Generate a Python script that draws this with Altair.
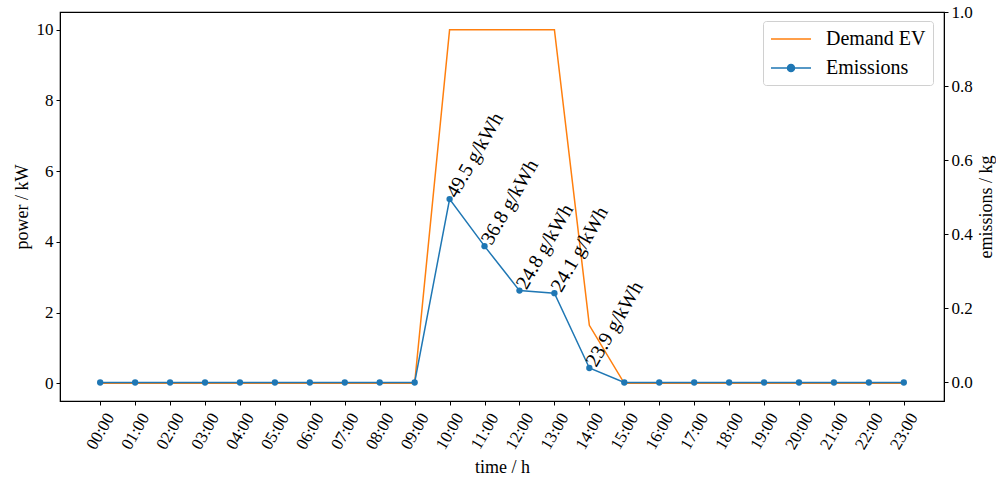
import altair as alt
import pandas as pd

hours = list(range(24))
demand_ev = [0, 0, 0, 0, 0, 0, 0, 0, 0, 0, 10, 10, 10, 10, 1.64, 0, 0, 0, 0, 0, 0, 0, 0, 0]
emissions = [0, 0, 0, 0, 0, 0, 0, 0, 0, 0, 0.495, 0.368, 0.248, 0.241, 0.039, 0, 0, 0, 0, 0, 0, 0, 0, 0]
ann_hours = [10, 11, 12, 13, 14]
ann_labels = ["49.5 g/kWh", "36.8 g/kWh", "24.8 g/kWh", "24.1 g/kWh", "23.9 g/kWh"]

df = pd.DataFrame({"hour": hours, "demand": demand_ev, "emissions": emissions})
ann = pd.DataFrame({"hour": ann_hours, "label": ann_labels,
                    "emissions": [emissions[h] for h in ann_hours]})

FONT = "Liberation Serif"
ORANGE = "#ff7f0e"
BLUE = "#1f77b4"

xscale = alt.Scale(domain=[-1.15, 24.15], nice=False, zero=False)
xaxis = alt.Axis(values=hours, title="time / h",
                 labelExpr="(datum.value < 10 ? '0' : '') + datum.value + ':00'",
                 labelAngle=-60, labelAlign="center", labelBaseline="middle",
                 labelOverlap=False, labelFlush=False,
                 labelFontSize=17, titleFontSize=18, labelPadding=26,
                 titlePadding=7, grid=False, tickSize=4,
                 domainColor="black", tickColor="black", labelColor="black",
                 titleColor="black", titleFontWeight="normal",
                 labelFont=FONT, titleFont=FONT)
xenc = alt.X("hour:Q", scale=xscale, axis=xaxis)

cscale = alt.Scale(domain=["Demand EV", "Emissions"], range=[ORANGE, BLUE])
legend = alt.Legend(
    title=None, orient="none", legendX=703, legendY=9,
    labelFont=FONT, labelFontSize=20, labelColor="black",
    symbolSize=400, symbolStrokeWidth=1.5,
    padding=7, rowPadding=8, labelOffset=24, symbolOffset=10,
    strokeColor="#d0d0d0", fillColor="white", cornerRadius=3,
    symbolType={"expr": "datum.value == 'Emissions' ? 'M-2,0H2M0.35,0A0.35,0.35 0 1 1 -0.35,0A0.35,0.35 0 1 1 0.35,0' : 'M-2,0H2'"},
    symbolFillColor={"expr": "datum.value == 'Emissions' ? '#1f77b4' : 'transparent'"},
)

left = alt.Chart(df).transform_calculate(series="'Demand EV'").mark_line(strokeWidth=1.5).encode(
    x=xenc,
    y=alt.Y("demand:Q", scale=alt.Scale(domain=[-0.5, 10.5], nice=False, zero=False),
            axis=alt.Axis(title="power / kW", values=[0, 2, 4, 6, 8, 10], grid=False,
                          tickSize=4, labelFontSize=17, titleFontSize=18, labelPadding=3,
                          domainColor="black", tickColor="black", labelColor="black",
                          titleColor="black", titleFontWeight="normal",
                          labelFont=FONT, titleFont=FONT, titlePadding=5)),
    color=alt.Color("series:N", scale=cscale, legend=legend),
)

yr_scale = alt.Scale(domain=[-0.05, 1.0], nice=False, zero=False)
yr_axis = alt.Axis(title="emissions / kg", orient="right", values=[0, 0.2, 0.4, 0.6, 0.8, 1.0],
                   format=".1f", grid=False, tickSize=4, labelFontSize=17, titleFontSize=18,
                   labelPadding=3, titleAngle=270, titleBaseline="top",
                   domainColor="black", tickColor="black", labelColor="black",
                   titleColor="black", titleFontWeight="normal",
                   labelFont=FONT, titleFont=FONT, titlePadding=5)

right = alt.Chart(df).transform_calculate(series="'Emissions'").mark_line(
    strokeWidth=1.5, point=alt.OverlayMarkDef(size=40, filled=True, color=BLUE)).encode(
    x=xenc,
    y=alt.Y("emissions:Q", scale=yr_scale, axis=yr_axis),
    color=alt.Color("series:N", scale=cscale, legend=legend),
)

text = alt.Chart(ann).mark_text(angle=300, align="left", baseline="alphabetic",
                                 font=FONT, fontSize=20, dx=3.5, dy=6).encode(
    x=xenc,
    y=alt.Y("emissions:Q", scale=yr_scale, axis=yr_axis),
    text="label:N",
    color=alt.value("black"),
)

right_layer = alt.layer(right, text)

chart = alt.layer(left, right_layer).resolve_scale(y="independent").properties(
    width=884, height=389,
    padding={"left": 60, "top": 12, "right": 52, "bottom": 78},
    autosize=alt.AutoSizeParams(type="none"),
    background="white",
).configure_view(stroke="black", strokeWidth=1.2).configure_axisX(labelOverlap=False)

chart.save("out.html", embed_options={"renderer": "svg", "actions": False})
